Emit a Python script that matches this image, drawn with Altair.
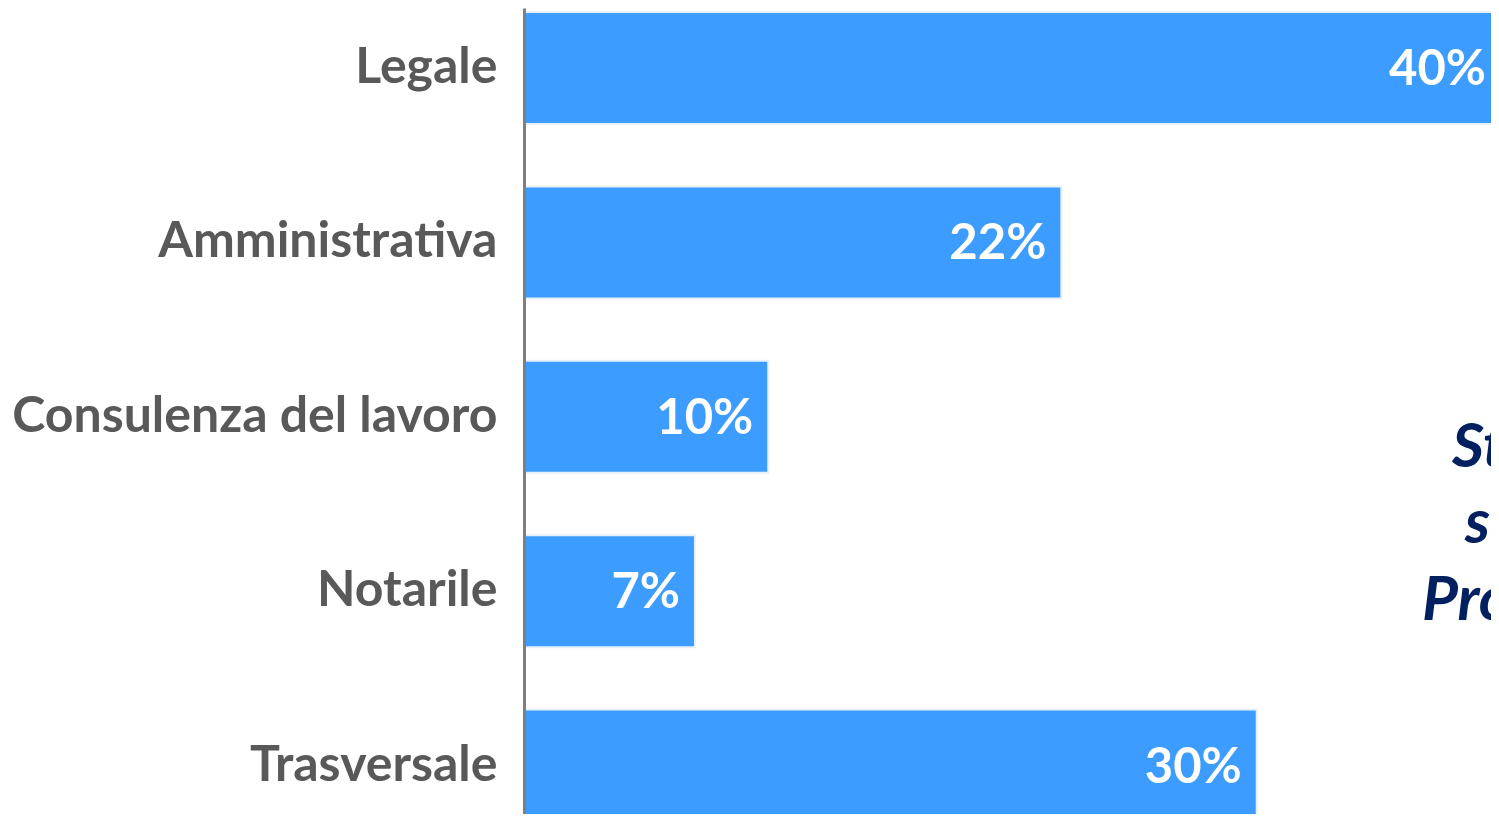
import altair as alt
import pandas as pd

categories = ["Legale", "Amministrativa", "Consulenza del lavoro", "Notarile", "Trasversale"]
values = [40, 22, 10, 7, 30]
side_lines = ["Studi", "settore", "Professionale"]

df = pd.DataFrame({"cat": categories, "v": values})

FONT = "Lato"
y_enc = alt.Y(
    "cat:N",
    sort=categories,
    title=None,
    scale=alt.Scale(range=[0, 817.6], paddingInner=0.358, paddingOuter=0.023),
    axis=alt.Axis(
        ticks=False,
        labelFont=FONT,
        labelFontSize=50,
        labelFontWeight="bold",
        labelColor="#595959",
        labelPadding=27,
        labelLimit=1000,
        labelExpr="(datum.label == 'Notarile' || datum.label == 'Trasversale') ? datum.label + '\u2009' : datum.label",
        domainColor="#7F7F7F",
        domainWidth=3,
        grid=False,
        zindex=1,
    ),
)
x_enc = alt.X("v:Q", axis=None, scale=alt.Scale(domain=[0, 40], range=[0, 977], nice=False))

base = alt.Chart(df)
bars = base.mark_bar(color="#3D9CFF", stroke="#E8F1F8", strokeWidth=2).encode(x=x_enc, y=y_enc)
labels = base.transform_calculate(lbl="datum.v + '%'").mark_text(
    align="right", baseline="middle", dx=-15, dy=2, font=FONT, fontSize=49,
    fontWeight="bold", color="white"
).encode(x=x_enc, y=alt.Y("cat:N", sort=categories), text="lbl:N")

side_pos = [(928, 459), (941, 535), (898, 612)]
side_layers = []
for line, (px, py) in zip(side_lines, side_pos):
    side_layers.append(
        alt.Chart(pd.DataFrame({"t": [line]})).mark_text(
            align="left", baseline="alphabetic", font=FONT, fontSize=62,
            fontWeight="bold", fontStyle="italic", color="#002060"
        ).encode(x=alt.value(px), y=alt.value(py), text="t:N")
    )

chart = alt.layer(bars, labels, *side_layers).properties(
    width=967,
    height=806,
    autosize=alt.AutoSizeParams(type="none"),
    padding={"left": 516, "top": 0, "right": 0, "bottom": 0},
    background="white",
).configure_view(stroke=None)

chart.save("out.html", embed_options={"renderer": "svg", "actions": False})
